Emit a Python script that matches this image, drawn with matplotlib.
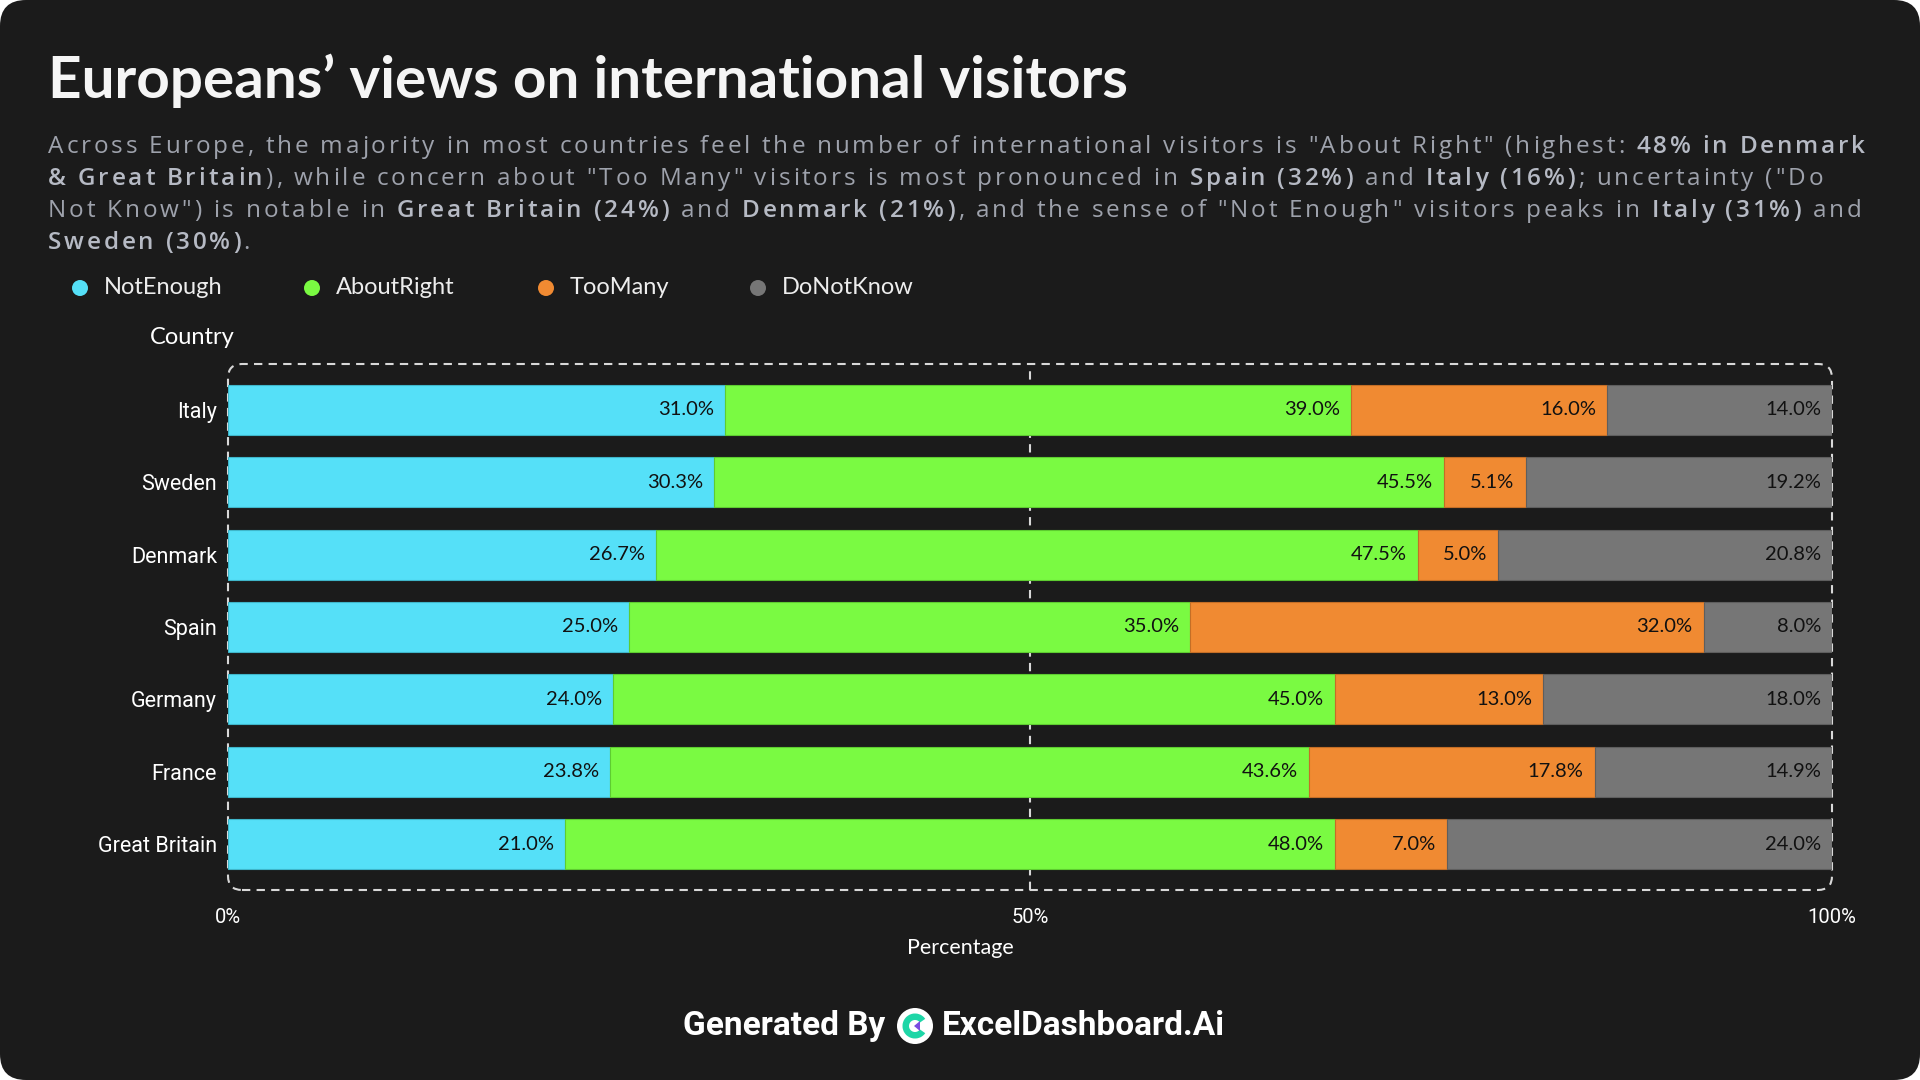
import matplotlib
matplotlib.use('Agg')
import matplotlib.pyplot as plt
from matplotlib.patches import FancyBboxPatch, Circle, Wedge, Polygon
from matplotlib.transforms import IdentityTransform
from matplotlib.font_manager import FontProperties
import numpy as np

# ---------------- data ----------------
countries = ['Italy', 'Sweden', 'Denmark', 'Spain', 'Germany', 'France', 'Great Britain']
not_enough = [31.0, 30.3, 26.7, 25.0, 24.0, 23.8, 21.0]
about_right = [39.0, 45.5, 47.5, 35.0, 45.0, 43.6, 48.0]
too_many = [16.0, 5.1, 5.0, 32.0, 13.0, 17.8, 7.0]
do_not_know = [14.0, 19.2, 20.8, 8.0, 18.0, 14.9, 24.0]
series_names = ['NotEnough', 'AboutRight', 'TooMany', 'DoNotKnow']
x_ticks = [0, 50, 100]
x_tick_labels = ['0%', '50%', '100%']

title = 'Europeans\u2019 views on international visitors'
subtitle_lines = [
    [('Across Europe, the majority in most countries feel the number of international visitors is "About Right" (highest: ', False),
     ('48% in Denmark', True)],
    [('& Great Britain', True), ('), while concern about "Too Many" visitors is most pronounced in ', False),
     ('Spain (32%)', True), (' and ', False), ('Italy (16%)', True), ('; uncertainty ("Do', False)],
    [('Not Know") is notable in ', False), ('Great Britain (24%)', True), (' and ', False),
     ('Denmark (21%)', True), (', and the sense of "Not Enough" visitors peaks in ', False),
     ('Italy (31%)', True), (' and', False)],
    [('Sweden (30%)', True), ('.', False)],
]

# ---------------- style ----------------
colors = ['#55E0F8', '#7AFA42', '#F08A32', '#767676']
edge_colors = ['#3FB6CA', '#5ECC30', '#C46E26', '#5E5E5E']
BG = '#1B1B1B'
W, H = 1920, 1080
SANS = 'Lato'
SUB = 'Open Sans'

fig = plt.figure(figsize=(W / 100, H / 100), dpi=100)
fig.patch.set_facecolor('white')
ident = IdentityTransform()


def fx(px):
    return px / W


def fy(py):
    return 1 - py / H


bg = FancyBboxPatch((0, 0), W, H, boxstyle='round,pad=0,rounding_size=26',
                    transform=ident, facecolor=BG, edgecolor='none', zorder=-10)
fig.add_artist(bg)

# ---------------- axes ----------------
ax_l, ax_r, ax_t, ax_b = 228, 1832, 364, 890
ax = fig.add_axes([fx(ax_l), fy(ax_b), (ax_r - ax_l) / W, (ax_b - ax_t) / H])
ax.set_facecolor('none')
for s in ax.spines.values():
    s.set_visible(False)

y = np.arange(len(countries))
left = np.zeros(len(countries))
for vals, c, ec in zip([not_enough, about_right, too_many, do_not_know], colors, edge_colors):
    vals = np.array(vals)
    ax.barh(y, vals, left=left, height=0.69, color=c, edgecolor=ec, linewidth=0.8, zorder=3)
    for yi, l, v in zip(y, left, vals):
        ax.annotate(f'{v:.1f}%', xy=(min(l + v, 100), yi), xytext=(-8, 0), textcoords='offset points',
                    ha='right', va='center', fontsize=14.5, color='#111111', family=SANS, zorder=4,
                    annotation_clip=False)
    left = left + vals

ax.set_xlim(0, 100)
ax.set_ylim(len(countries) - 1 + 0.63, -0.63)
ax.axvline(50, color='#D8D8D8', ls=(0, (4, 3)), lw=1.5, zorder=1)
ax.set_xticks(x_ticks)
ax.set_xticklabels(x_tick_labels, family='Roboto', fontsize=14.5, color='white')
ax.set_yticks(y)
ax.set_yticklabels(countries, family='Roboto', fontsize=15.5, color='white')
ax.tick_params(axis='x', length=0, pad=13)
ax.tick_params(axis='y', length=0, pad=8)

box = FancyBboxPatch((ax_l, H - ax_b), ax_r - ax_l, ax_b - ax_t, boxstyle='round,pad=0,rounding_size=14',
                     transform=ident, fill=False, edgecolor='#D8D8D8', ls=(0, (4, 3)), lw=1.5, zorder=-5)
fig.add_artist(box)

fig.text(fx(192), fy(338), 'Country', ha='center', va='center', fontsize=17, color='white', family=SANS)
fig.text(fx(960), fy(948), 'Percentage', ha='center', va='center', fontsize=15.5, color='white', family=SANS)

# ---------------- title ----------------
fig.text(fx(48), fy(98), title, ha='left', va='baseline', fontsize=42, weight='bold', color='#F5F5F5', family=SANS)

# ---------------- subtitle (rich, tracked) ----------------
renderer = fig.canvas.get_renderer()
sub_size = 17.5
props = {False: FontProperties(family=SUB, size=sub_size, weight='normal'),
         True: FontProperties(family=SUB, size=sub_size, weight='semibold')}
sub_colors = {False: '#9EA2AC', True: '#B6BAC4'}
_cache = {}


def char_w(ch, bold):
    key = (ch, bold)
    if key not in _cache:
        p = props[bold]
        a = renderer.get_text_width_height_descent('l' + ch + 'l', p, ismath=False)[0]
        b = renderer.get_text_width_height_descent('ll', p, ismath=False)[0]
        _cache[key] = a - b
    return _cache[key]


def line_width(segs, tr):
    n = sum(len(t) for t, _ in segs)
    return sum(char_w(ch, b) for t, b in segs for ch in t) + tr * (n - 1)


target = 1865 - 48
w0 = line_width(subtitle_lines[0], 0)
n0 = sum(len(t) for t, _ in subtitle_lines[0])
tracking = (target - w0) / (n0 - 1)

baselines = [153, 185, 217, 249]
for segs, by in zip(subtitle_lines, baselines):
    x = 48
    for t, b in segs:
        for ch in t:
            if ch != ' ':
                fig.text(fx(x), fy(by), ch, ha='left', va='baseline', fontproperties=props[b], color=sub_colors[b])
            x += char_w(ch, b) + tracking

# ---------------- legend ----------------
leg_x = [80, 312, 546, 758]
for name, c, lx in zip(series_names, colors, leg_x):
    fig.add_artist(Circle((lx, H - 288), 8, transform=ident, facecolor=c, edgecolor='none'))
    fig.text(fx(lx + 24), fy(288), name, ha='left', va='center', fontsize=17, color='#EDEDED', family=SANS)

# ---------------- footer ----------------
fig.text(fx(885), fy(1026), 'Generated By', ha='right', va='center', family='Roboto', weight='bold',
         fontsize=24, color='white')
lcx, lcy = 915, H - 1026
fig.add_artist(Circle((lcx, lcy), 18, transform=ident, facecolor='white', edgecolor='none'))
fig.add_artist(Wedge((lcx, lcy), 12.5, 35, 325, width=6.5, transform=ident, facecolor='#1ED6A7', edgecolor='none'))
fig.add_artist(Polygon([(lcx - 1, lcy), (lcx + 5, lcy + 5), (lcx + 5, lcy - 5)], closed=True, transform=ident,
                       facecolor='#7B4BE0', edgecolor='none'))
fig.text(fx(942), fy(1026), 'ExcelDashboard.Ai', ha='left', va='center', family='Roboto', weight='bold',
         fontsize=24, color='white')

fig.savefig('out.png', dpi=100, facecolor=fig.get_facecolor())
